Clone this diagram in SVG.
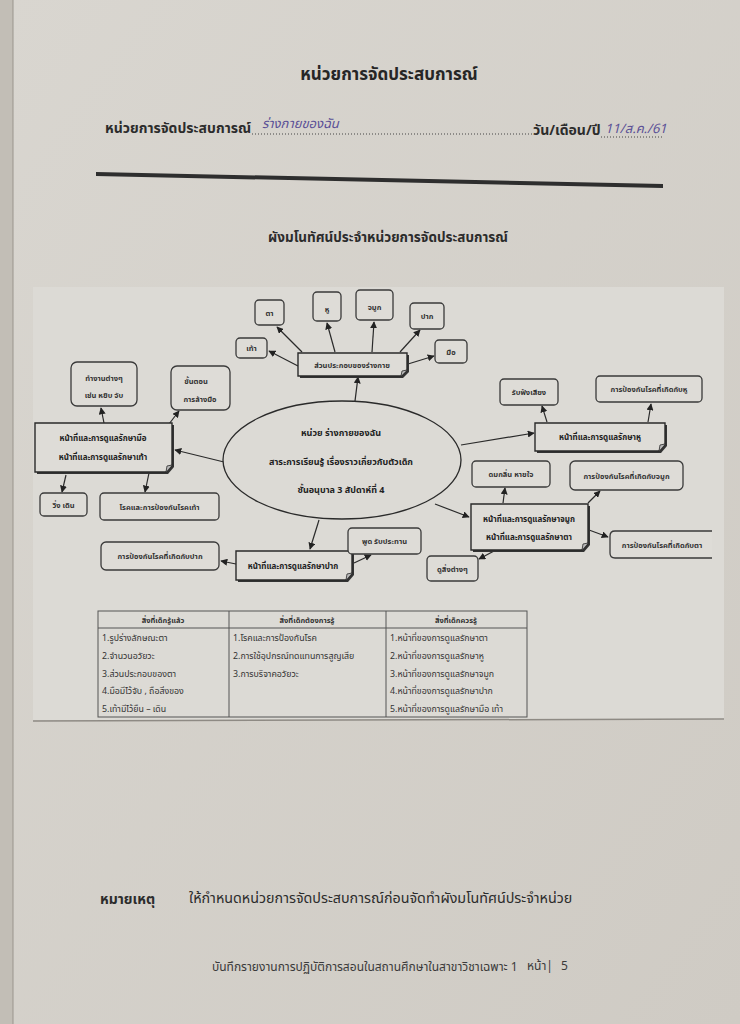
<svg xmlns="http://www.w3.org/2000/svg" width="740" height="1024" viewBox="0 0 740 1024">
<defs>
<marker id="ah" viewBox="0 0 10 10" refX="9" refY="5" markerWidth="7" markerHeight="7" markerUnits="userSpaceOnUse" orient="auto">
<path d="M0,0 L10,5 L0,10 Z" fill="#222"/>
</marker>
<linearGradient id="bg" x1="0" y1="0" x2="1" y2="1">
<stop offset="0" stop-color="#d9d6d0"/>
<stop offset="1" stop-color="#cfcbc4"/>
</linearGradient>
</defs>
<style>
text{font-family:"Noto Sans Thai","Noto Sans","DejaVu Sans",sans-serif;fill:#2a2a2a}
.h{font-size:17px;font-weight:bold;fill:#262626}
.h2{font-size:14px;font-weight:bold;fill:#2c2c2c}
.sub{font-size:13.5px;fill:#2c2c2c}
.note{font-size:14.3px;fill:#2c2c2c}
.hw{font-size:13px;fill:#5a4f96;font-style:italic}
.t{font-size:7.5px;font-weight:bold;fill:#333;text-anchor:middle}
.tb{font-size:8px;font-weight:bold;fill:#222;text-anchor:middle}
.te{font-size:9px;font-weight:bold;fill:#222;text-anchor:middle}
.tt{font-size:8.8px;fill:#333}
.leaf{fill:#dedcd7;stroke:#3a3a3a;stroke-width:1.3}
.hub{fill:#dedcd7;stroke:#2a2a2a;stroke-width:1.4}
.sh{fill:#333}
.c line,.c path{stroke:#2a2a2a;stroke-width:1.2;fill:none;marker-end:url(#ah)}
.grid{stroke:#555;stroke-width:1;fill:none}
.foot{font-size:12px;fill:#3a3a3a}
</style>
<rect x="0" y="0" width="740" height="1024" fill="url(#bg)"/>
<rect x="0" y="0" width="13" height="1024" fill="#c2beb6"/>
<line x1="13" y1="0" x2="13" y2="1024" stroke="#9a958d" stroke-width="1"/>
<!-- pasted sheet -->
<rect x="33" y="287" width="691" height="433" fill="#dcdad5"/>
<line x1="33" y1="721" x2="724" y2="719" stroke="#8e8a84" stroke-width="1.5"/>

<g id="header">
<text class="h" x="389" y="80" text-anchor="middle">หน่วยการจัดประสบการณ์</text>
<text class="h2" x="105" y="133">หน่วยการจัดประสบการณ์</text>
<line x1="252" y1="134" x2="532" y2="134" stroke="#444" stroke-width="1" stroke-dasharray="1,2"/>
<text class="hw" x="262" y="128">ร่างกายของฉัน</text>
<text class="h2" x="533" y="135">วัน/เดือน/ปี</text>
<line x1="601" y1="137" x2="664" y2="137" stroke="#444" stroke-width="1" stroke-dasharray="1,2"/>
<text class="hw" x="605" y="133">11/ส.ค./61</text>
<path d="M96,172 L663,184 L663,188 L96,176 Z" fill="#2e2e2e"/>
<text class="sub" x="388" y="242" text-anchor="middle" font-weight="bold">ผังมโนทัศน์ประจำหน่วยการจัดประสบการณ์</text>
</g>

<g id="connectors" class="c">
<line x1="355" y1="401" x2="358" y2="377"/>
<line x1="302" y1="352" x2="277" y2="327"/>
<line x1="298" y1="366" x2="269" y2="351"/>
<line x1="335" y1="352" x2="327" y2="323"/>
<line x1="372" y1="352" x2="374" y2="322"/>
<line x1="400" y1="352" x2="420" y2="330"/>
<line x1="408" y1="364" x2="434" y2="356"/>
<line x1="224" y1="462" x2="175" y2="450"/>
<line x1="104" y1="423" x2="101" y2="408"/>
<line x1="169" y1="424" x2="179" y2="411"/>
<line x1="66" y1="475" x2="62" y2="492"/>
<line x1="149" y1="473" x2="145" y2="492"/>
<line x1="461" y1="445" x2="534" y2="433"/>
<line x1="547" y1="422" x2="542" y2="406"/>
<line x1="648" y1="422" x2="651" y2="404"/>
<line x1="435" y1="504" x2="469" y2="517"/>
<line x1="503" y1="503" x2="505" y2="488"/>
<line x1="588" y1="503" x2="600" y2="491"/>
<line x1="589" y1="530" x2="608" y2="537"/>
<line x1="494" y1="551" x2="479" y2="559"/>
<line x1="319" y1="520" x2="310" y2="549"/>
<line x1="236" y1="564" x2="221" y2="561"/>
<line x1="354" y1="563" x2="371" y2="555"/>
</g>

<g id="n-ta"><rect class="leaf" x="255" y="300" width="29" height="25" rx="4"/><text class="t" x="269.5" y="316">ตา</text></g>
<g id="n-hu"><rect class="leaf" x="313" y="292" width="28" height="29" rx="4"/><text class="t" x="327" y="312">หู</text></g>
<g id="n-chamuk"><rect class="leaf" x="356" y="290" width="37" height="30" rx="4"/><text class="t" x="374.5" y="310">จมูก</text></g>
<g id="n-pak"><rect class="leaf" x="410" y="303" width="34" height="26" rx="4"/><text class="t" x="427" y="319">ปาก</text></g>
<g id="n-mue"><rect class="leaf" x="435" y="340" width="32" height="23" rx="4"/><text class="t" x="451" y="355">มือ</text></g>
<g id="n-thao"><rect class="leaf" x="236" y="338" width="31" height="20" rx="4"/><text class="t" x="251.5" y="351">เท้า</text></g>

<g id="h-parts">
<path class="sh" d="M300,355 H409 V372 L403,378 H300 Z"/>
<path class="hub" d="M298,353 H407 V370 L401,376 H298 Z"/>
<path d="M401,376 L402,371 L407,370" fill="#bbb" stroke="#2a2a2a" stroke-width="0.8"/>
<text class="t" x="352" y="368">ส่วนประกอบของร่างกาย</text>
</g>

<g id="n-work"><rect class="leaf" x="71" y="362" width="66" height="44" rx="6"/><text class="t" x="104" y="381">ทำงานต่างๆ</text><text class="t" x="104" y="398">เช่น หยิบ จับ</text></g>
<g id="n-step"><rect class="leaf" x="171" y="366" width="59" height="44" rx="6"/><text class="t" x="196" y="384">ขั้นตอน</text><text class="t" x="200" y="402">การล้างมือ</text></g>

<g id="h-handfoot">
<path class="sh" d="M37,425 H174 V467 L168,474 H37 Z"/>
<path class="hub" d="M35,423 H172 V465 L166,472 H35 Z"/>
<path d="M166,472 L167,466 L172,465" fill="#bbb" stroke="#2a2a2a" stroke-width="0.8"/>
<text class="tb" x="103" y="441">หน้าที่และการดูแลรักษามือ</text>
<text class="tb" x="103" y="460">หน้าที่และการดูแลรักษาเท้า</text>
</g>

<g id="n-run"><rect class="leaf" x="40" y="493" width="47" height="23" rx="4"/><text class="t" x="63.5" y="508">วิ่ง เดิน</text></g>
<g id="n-footdisease"><rect class="leaf" x="100" y="493" width="119" height="27" rx="4"/><text class="t" x="159.5" y="510">โรคและการป้องกันโรคเท้า</text></g>

<g id="center">
<ellipse cx="342" cy="460" rx="119" ry="59" fill="#dcdad5" stroke="#2a2a2a" stroke-width="1.3"/>
<text class="te" x="341" y="436">หน่วย ร่างกายของฉัน</text>
<text class="te" x="341" y="465">สาระการเรียนรู้ เรื่องราวเกี่ยวกับตัวเด็ก</text>
<text class="te" x="341" y="493">ชั้นอนุบาล 3 สัปดาห์ที่ 4</text>
</g>

<g id="n-listen"><rect class="leaf" x="500" y="379" width="58" height="26" rx="4"/><text class="t" x="529" y="395">รับฟังเสียง</text></g>
<g id="n-eardisease"><rect class="leaf" x="596" y="376" width="106" height="26" rx="4"/><text class="t" x="649" y="392">การป้องกันโรคที่เกิดกับหู</text></g>

<g id="h-ear">
<path class="sh" d="M537,425 H667 V446 L661,453 H537 Z"/>
<path class="hub" d="M535,423 H665 V444 L659,451 H535 Z"/>
<path d="M659,451 L660,445 L665,444" fill="#bbb" stroke="#2a2a2a" stroke-width="0.8"/>
<text class="tb" x="600" y="440">หน้าที่และการดูแลรักษาหู</text>
</g>

<g id="n-smell"><rect class="leaf" x="472" y="461" width="78" height="26" rx="4"/><text class="t" x="511" y="477">ดมกลิ่น หายใจ</text></g>
<g id="n-nosedisease"><rect class="leaf" x="570" y="461" width="113" height="29" rx="5"/><text class="t" x="626.5" y="479">การป้องกันโรคที่เกิดกับจมูก</text></g>

<g id="h-noseeye">
<path class="sh" d="M473,506 H590 V545 L584,552 H473 Z"/>
<path class="hub" d="M471,504 H588 V543 L582,550 H471 Z"/>
<path d="M582,550 L583,544 L588,543" fill="#bbb" stroke="#2a2a2a" stroke-width="0.8"/>
<text class="tb" x="529" y="522">หน้าที่และการดูแลรักษาจมูก</text>
<text class="tb" x="529" y="540">หน้าที่และการดูแลรักษาตา</text>
</g>

<g id="n-eyedisease"><path class="leaf" d="M712,531 H615 Q610,531 610,536 V553 Q610,558 615,558 H712"/><text class="t" x="662" y="548">การป้องกันโรคที่เกิดกับตา</text></g>
<g id="n-see"><rect class="leaf" x="427" y="556" width="51" height="25" rx="4"/><text class="t" x="452.5" y="572">ดูสิ่งต่างๆ</text></g>

<g id="n-mouthdisease"><rect class="leaf" x="101" y="542" width="118" height="28" rx="5"/><text class="t" x="160" y="559">การป้องกันโรคที่เกิดกับปาก</text></g>

<g id="h-mouth">
<path class="sh" d="M238,553 H354 V575 L348,582 H238 Z"/>
<path class="hub" d="M236,551 H352 V573 L346,580 H236 Z"/>
<path d="M346,580 L347,574 L352,573" fill="#bbb" stroke="#2a2a2a" stroke-width="0.8"/>
<text class="tb" x="293" y="569">หน้าที่และการดูแลรักษาปาก</text>
</g>

<g id="n-speak"><rect class="leaf" x="348" y="528" width="73" height="26" rx="4"/><text class="t" x="384.5" y="544">พูด รับประทาน</text></g>

<g id="table">
<rect class="grid" x="98" y="611" width="429" height="106"/>
<line class="grid" x1="98" y1="628" x2="527" y2="628"/>
<line class="grid" x1="229" y1="611" x2="229" y2="717"/>
<line class="grid" x1="386" y1="611" x2="386" y2="717"/>
<text class="t" x="163" y="623">สิ่งที่เด็กรู้แล้ว</text>
<text class="t" x="307" y="623">สิ่งที่เด็กต้องการรู้</text>
<text class="t" x="456" y="623">สิ่งที่เด็กควรรู้</text>
<text class="tt" x="102" y="641">1.รูปร่างลักษณะตา</text>
<text class="tt" x="102" y="659">2.จำนวนอวัยวะ</text>
<text class="tt" x="102" y="677">3.ส่วนประกอบของตา</text>
<text class="tt" x="102" y="694">4.มือมีไว้จับ , ถือสิ่งของ</text>
<text class="tt" x="102" y="712">5.เท้ามีไว้ยืน – เดิน</text>
<text class="tt" x="233" y="641">1.โรคและการป้องกันโรค</text>
<text class="tt" x="233" y="659">2.การใช้อุปกรณ์ทดแทนการสูญเสีย</text>
<text class="tt" x="233" y="677">3.การบริจาคอวัยวะ</text>
<text class="tt" x="390" y="641">1.หน้าที่ของการดูแลรักษาตา</text>
<text class="tt" x="390" y="659">2.หน้าที่ของการดูแลรักษาหู</text>
<text class="tt" x="390" y="677">3.หน้าที่ของการดูแลรักษาจมูก</text>
<text class="tt" x="390" y="694">4.หน้าที่ของการดูแลรักษาปาก</text>
<text class="tt" x="390" y="712">5.หน้าที่ของการดูแลรักษามือ เท้า</text>
</g>

<g id="footer">
<text class="h2" x="100" y="904">หมายเหตุ</text>
<text class="note" x="189" y="903">ให้กำหนดหน่วยการจัดประสบการณ์ก่อนจัดทำผังมโนทัศน์ประจำหน่วย</text>
<text class="foot" x="212" y="971">บันทึกรายงานการปฏิบัติการสอนในสถานศึกษาในสาขาวิชาเฉพาะ 1</text>
<text class="foot" x="527" y="970">หน้า|</text>
<text class="foot" x="561" y="970">5</text>
</g>
</svg>
